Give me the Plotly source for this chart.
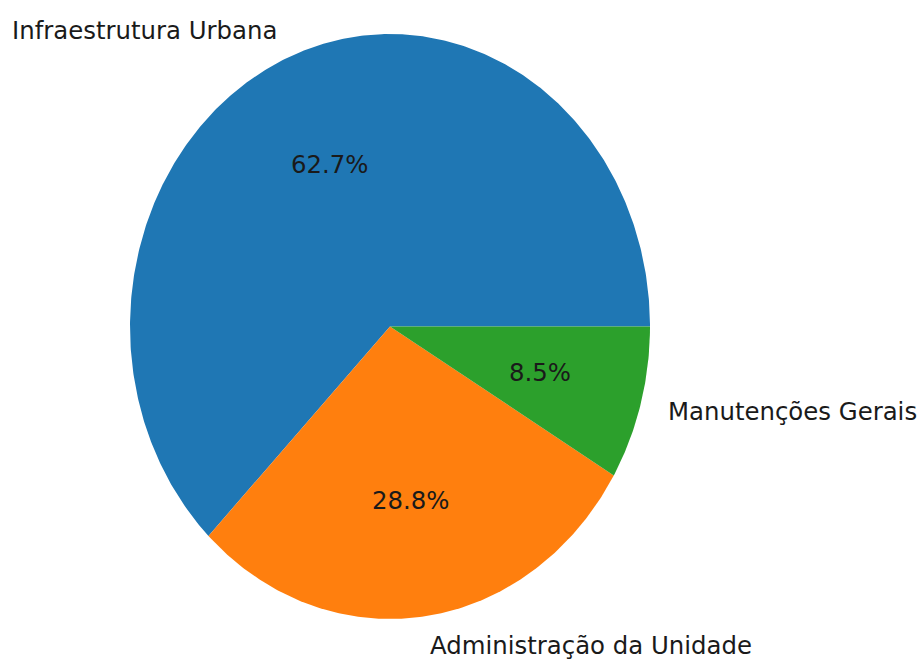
import numpy as np
import plotly.graph_objects as go

# Data
categories = ["Infraestrutura Urbana", "Administração da Unidade", "Manutenções Gerais"]
percentages = [62.7, 28.8, 8.5]
colors = ["#1f77b4", "#ff7f0e", "#2ca02c"]

W, H = 920, 659
# pixel geometry of the (vertically stretched) pie
cx_px, cy_px = 390.0, 326.5
rx_px, ry_px = 260.0, 292.5

x_range = [-cx_px / rx_px, (W - cx_px) / rx_px]
y_range = [-(H - cy_px) / ry_px, cy_px / ry_px]

fig = go.Figure()

total = sum(percentages)
start = 0.0
annotations = []
font = dict(family="DejaVu Sans", size=24.4, color="#1a1a1a")
for cat, val, col in zip(categories, percentages, colors):
    sweep = 360.0 * val / total
    end = start + sweep
    theta = np.radians(np.linspace(start, end, max(int(sweep * 2), 8)))
    xs = np.concatenate([[0.0], np.cos(theta), [0.0]])
    ys = np.concatenate([[0.0], np.sin(theta), [0.0]])
    fig.add_trace(go.Scatter(
        x=xs, y=ys, mode="lines", fill="toself", fillcolor=col,
        line=dict(width=0, color=col), name=cat, hoverinfo="name",
        showlegend=False,
    ))
    mid = np.radians((start + end) / 2)
    # category label at 1.1 radius
    lx, ly = 1.1 * np.cos(mid), 1.1 * np.sin(mid)
    annotations.append(dict(
        x=lx, y=ly, xref="x", yref="y", text=cat, showarrow=False,
        xanchor="right" if lx < 0 else "left", yanchor="middle", font=font,
    ))
    # percentage at 0.6 radius
    px_, py_ = 0.6 * np.cos(mid), 0.6 * np.sin(mid)
    annotations.append(dict(
        x=px_, y=py_, xref="x", yref="y", text=f"{val:.1f}%", showarrow=False,
        xanchor="center", yanchor="middle", font=font,
    ))
    start = end

fig.update_layout(
    width=W, height=H,
    margin=dict(l=0, r=0, t=0, b=0),
    paper_bgcolor="white", plot_bgcolor="white",
    xaxis=dict(range=x_range, visible=False, fixedrange=True),
    yaxis=dict(range=y_range, visible=False, fixedrange=True),
    annotations=annotations,
    showlegend=False,
)

fig.write_html(
    "out.html",
    config={"displayModeBar": False},
    post_script="document.body.style.margin='0';document.body.style.overflow='hidden';",
)
